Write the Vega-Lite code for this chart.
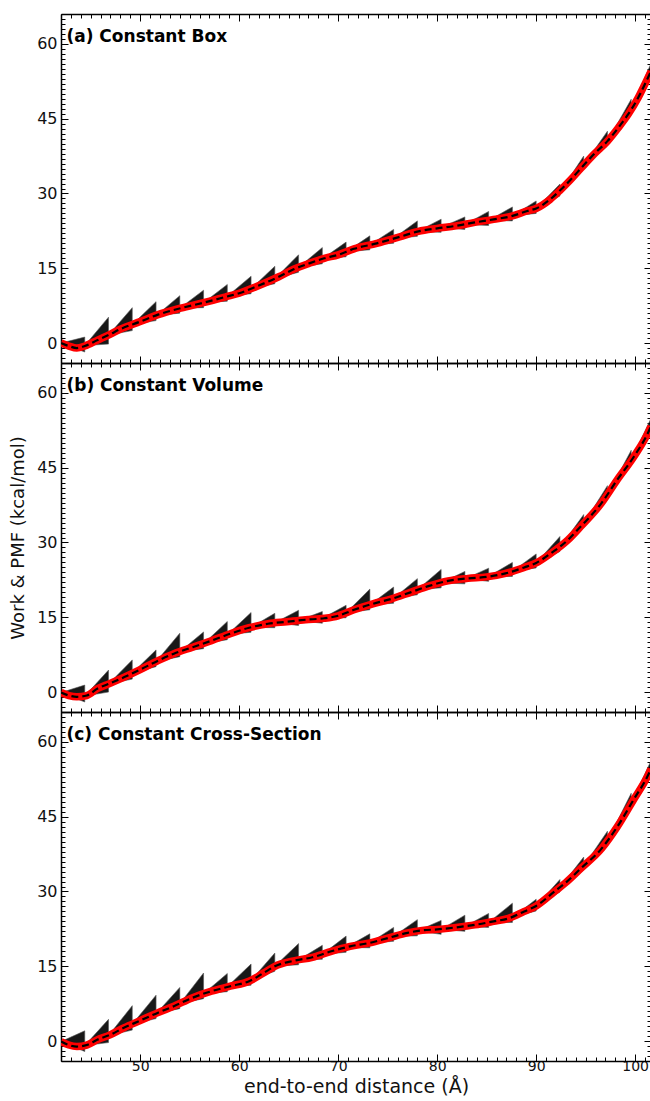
{
  "$schema": "https://vega.github.io/schema/vega-lite/v6.json",
  "padding": {"left": 9, "top": 6, "right": 0, "bottom": 0},
  "spacing": 0,
  "bounds": "flush",
  "config": {
    "view": {"stroke": null},
    "font": "DejaVu Sans",
    "axis": {
      "grid": false,
      "domainColor": "black",
      "domainWidth": 1.5,
      "tickColor": "black",
      "tickWidth": 1,
      "labelColor": "#111111",
      "labelFont": "DejaVu Sans",
      "titleFont": "DejaVu Sans",
      "titleColor": "#111111",
      "titleFontWeight": "normal",
      "labelOverlap": false,
      "labelFlush": false
    }
  },
  "datasets": {
    "pmf": [
      {"p":"a","x":42,"y":0.0},{"p":"a","x":42.8,"y":-0.6},{"p":"a","x":43.6,"y":-1.0},{"p":"a","x":44.4,"y":-0.6},{"p":"a","x":45.7,"y":0.6},{"p":"a","x":46.9,"y":1.7},{"p":"a","x":48,"y":2.8},{"p":"a","x":50,"y":4.3},{"p":"a","x":51.8,"y":5.7},{"p":"a","x":54.1,"y":7.0},{"p":"a","x":56.4,"y":8.1},{"p":"a","x":58.7,"y":9.3},{"p":"a","x":60,"y":10.0},{"p":"a","x":61.7,"y":11.3},{"p":"a","x":64,"y":13.3},{"p":"a","x":65.5,"y":14.8},{"p":"a","x":67.1,"y":16.0},{"p":"a","x":68.6,"y":17.0},{"p":"a","x":70,"y":17.7},{"p":"a","x":71.6,"y":18.9},{"p":"a","x":73.9,"y":20.0},{"p":"a","x":76.2,"y":21.3},{"p":"a","x":78.1,"y":22.4},{"p":"a","x":80,"y":23.0},{"p":"a","x":81.9,"y":23.5},{"p":"a","x":83.8,"y":24.2},{"p":"a","x":85.7,"y":24.8},{"p":"a","x":87.6,"y":25.5},{"p":"a","x":89.1,"y":26.5},{"p":"a","x":90,"y":27.0},{"p":"a","x":91.4,"y":28.8},{"p":"a","x":92.4,"y":30.6},{"p":"a","x":93.5,"y":32.8},{"p":"a","x":94.5,"y":35.0},{"p":"a","x":95.8,"y":37.8},{"p":"a","x":97.2,"y":40.5},{"p":"a","x":98.3,"y":43.2},{"p":"a","x":99.3,"y":45.9},{"p":"a","x":100.3,"y":49.2},{"p":"a","x":101,"y":52.0},{"p":"a","x":101.6,"y":54.5},
      {"p":"b","x":42,"y":-0.1},{"p":"b","x":42.8,"y":-0.7},{"p":"b","x":43.6,"y":-0.95},{"p":"b","x":44.6,"y":-0.7},{"p":"b","x":45.7,"y":0.7},{"p":"b","x":46.9,"y":1.7},{"p":"b","x":48.4,"y":3.0},{"p":"b","x":50,"y":4.5},{"p":"b","x":51.8,"y":6.3},{"p":"b","x":53.4,"y":7.7},{"p":"b","x":55.3,"y":9.0},{"p":"b","x":57.2,"y":10.3},{"p":"b","x":59.1,"y":11.7},{"p":"b","x":61,"y":12.9},{"p":"b","x":62.9,"y":13.7},{"p":"b","x":64.8,"y":14.1},{"p":"b","x":66.7,"y":14.5},{"p":"b","x":68.6,"y":14.8},{"p":"b","x":70,"y":15.3},{"p":"b","x":71.6,"y":16.5},{"p":"b","x":73.5,"y":17.7},{"p":"b","x":75.4,"y":18.7},{"p":"b","x":77.3,"y":20.0},{"p":"b","x":79.2,"y":21.3},{"p":"b","x":81.1,"y":22.3},{"p":"b","x":83.1,"y":22.8},{"p":"b","x":85,"y":23.1},{"p":"b","x":86.9,"y":23.8},{"p":"b","x":88.8,"y":25.0},{"p":"b","x":90,"y":25.9},{"p":"b","x":91.4,"y":27.7},{"p":"b","x":93.2,"y":30.5},{"p":"b","x":94.5,"y":33.2},{"p":"b","x":96.6,"y":37.9},{"p":"b","x":98.2,"y":42.6},{"p":"b","x":99.9,"y":47.3},{"p":"b","x":101.3,"y":52.0},{"p":"b","x":101.6,"y":53.3},
      {"p":"c","x":42,"y":-0.1},{"p":"c","x":42.8,"y":-0.8},{"p":"c","x":43.6,"y":-1.1},{"p":"c","x":44.6,"y":-0.8},{"p":"c","x":45.7,"y":0.3},{"p":"c","x":46.9,"y":1.2},{"p":"c","x":48.4,"y":2.7},{"p":"c","x":50,"y":4.1},{"p":"c","x":51.8,"y":5.7},{"p":"c","x":53.4,"y":7.0},{"p":"c","x":55.3,"y":8.7},{"p":"c","x":57.2,"y":10.0},{"p":"c","x":59.1,"y":11.0},{"p":"c","x":61,"y":12.0},{"p":"c","x":62.5,"y":13.7},{"p":"c","x":63.6,"y":15.0},{"p":"c","x":65.5,"y":16.1},{"p":"c","x":67.4,"y":16.8},{"p":"c","x":69.3,"y":18.0},{"p":"c","x":71.2,"y":19.0},{"p":"c","x":73.2,"y":19.7},{"p":"c","x":75.1,"y":20.7},{"p":"c","x":77,"y":21.7},{"p":"c","x":78.5,"y":22.2},{"p":"c","x":80,"y":22.4},{"p":"c","x":81.9,"y":22.8},{"p":"c","x":83.8,"y":23.3},{"p":"c","x":85.7,"y":24.0},{"p":"c","x":87.2,"y":24.6},{"p":"c","x":88.8,"y":26.0},{"p":"c","x":90,"y":27.1},{"p":"c","x":91.8,"y":29.9},{"p":"c","x":93,"y":31.8},{"p":"c","x":94.5,"y":34.6},{"p":"c","x":96.6,"y":38.6},{"p":"c","x":98.2,"y":43.0},{"p":"c","x":99.9,"y":48.6},{"p":"c","x":101.3,"y":53.3},{"p":"c","x":101.6,"y":54.6}
    ],
    "tri": [
      {"p":"a","s":0,"x":42,"h":0,"l":0},{"p":"a","s":0,"x":44.4,"h":1.2,"l":-1.8},
      {"p":"a","s":1,"x":44.4,"h":-0.5,"l":-0.5},{"p":"a","s":1,"x":46.8,"h":5.2,"l":-0.2},
      {"p":"a","s":2,"x":46.8,"h":1.6,"l":1.6},{"p":"a","s":2,"x":49.2,"h":7.1,"l":2.5},
      {"p":"a","s":3,"x":49.2,"h":3.7,"l":3.7},{"p":"a","s":3,"x":51.6,"h":8.3,"l":4.5},
      {"p":"a","s":4,"x":51.6,"h":5.5,"l":5.5},{"p":"a","s":4,"x":54.0,"h":9.5,"l":6.0},
      {"p":"a","s":5,"x":54.0,"h":7.0,"l":7.0},{"p":"a","s":5,"x":56.4,"h":10.6,"l":7.1},
      {"p":"a","s":6,"x":56.4,"h":8.1,"l":8.1},{"p":"a","s":6,"x":58.8,"h":11.75,"l":8.4},
      {"p":"a","s":7,"x":58.8,"h":9.4,"l":9.4},{"p":"a","s":7,"x":61.2,"h":13.4,"l":9.9},
      {"p":"a","s":8,"x":61.2,"h":10.9,"l":10.9},{"p":"a","s":8,"x":63.6,"h":15.4,"l":11.9},
      {"p":"a","s":9,"x":63.6,"h":12.9,"l":12.9},{"p":"a","s":9,"x":66.0,"h":17.7,"l":14.2},
      {"p":"a","s":10,"x":66.0,"h":15.2,"l":15.2},{"p":"a","s":10,"x":68.4,"h":19.15,"l":15.9},
      {"p":"a","s":11,"x":68.4,"h":16.9,"l":16.9},{"p":"a","s":11,"x":70.8,"h":20.25,"l":17.3},
      {"p":"a","s":12,"x":70.8,"h":18.3,"l":18.3},{"p":"a","s":12,"x":73.2,"h":21.5,"l":18.7},
      {"p":"a","s":13,"x":73.2,"h":19.7,"l":19.7},{"p":"a","s":13,"x":75.6,"h":22.8,"l":20.0},
      {"p":"a","s":14,"x":75.6,"h":21.0,"l":21.0},{"p":"a","s":14,"x":78.0,"h":24.5,"l":21.4},
      {"p":"a","s":15,"x":78.0,"h":22.4,"l":22.4},{"p":"a","s":15,"x":80.4,"h":24.85,"l":22.2},
      {"p":"a","s":16,"x":80.4,"h":23.2,"l":23.2},{"p":"a","s":16,"x":82.8,"h":25.3,"l":22.8},
      {"p":"a","s":17,"x":82.8,"h":23.8,"l":23.8},{"p":"a","s":17,"x":85.2,"h":26.4,"l":23.6},
      {"p":"a","s":18,"x":85.2,"h":24.6,"l":24.6},{"p":"a","s":18,"x":87.6,"h":27.3,"l":24.5},
      {"p":"a","s":19,"x":87.6,"h":25.5,"l":25.5},{"p":"a","s":19,"x":90.0,"h":28.5,"l":26.0},
      {"p":"a","s":20,"x":90.0,"h":27.0,"l":27.0},{"p":"a","s":20,"x":92.4,"h":31.9,"l":29.5},
      {"p":"a","s":21,"x":92.4,"h":30.3,"l":30.3},{"p":"a","s":21,"x":94.8,"h":37.5,"l":35.0},
      {"p":"a","s":22,"x":94.8,"h":35.7,"l":35.7},{"p":"a","s":22,"x":97.2,"h":42.5,"l":39.8},
      {"p":"a","s":23,"x":97.2,"h":40.5,"l":40.5},{"p":"a","s":23,"x":99.6,"h":48.9,"l":46.0},
      {"p":"a","s":24,"x":99.6,"h":46.8,"l":46.8},{"p":"a","s":24,"x":101.6,"h":56.1,"l":53.7},
      {"p":"b","s":0,"x":42,"h":-0.1,"l":-0.1},{"p":"b","s":0,"x":44.4,"h":1.4,"l":-2.0},
      {"p":"b","s":1,"x":44.4,"h":-0.8,"l":-0.8},{"p":"b","s":1,"x":46.8,"h":4.4,"l":0.0},
      {"p":"b","s":2,"x":46.8,"h":1.6,"l":1.6},{"p":"b","s":2,"x":49.2,"h":6.45,"l":2.6},
      {"p":"b","s":3,"x":49.2,"h":3.8,"l":3.8},{"p":"b","s":3,"x":51.6,"h":8.45,"l":5.1},
      {"p":"b","s":4,"x":51.6,"h":6.1,"l":6.1},{"p":"b","s":4,"x":54.0,"h":11.8,"l":7.1},
      {"p":"b","s":5,"x":54.0,"h":8.1,"l":8.1},{"p":"b","s":5,"x":56.4,"h":12.05,"l":8.7},
      {"p":"b","s":6,"x":56.4,"h":9.7,"l":9.7},{"p":"b","s":6,"x":58.8,"h":14.15,"l":10.5},
      {"p":"b","s":7,"x":58.8,"h":11.5,"l":11.5},{"p":"b","s":7,"x":61.2,"h":15.95,"l":12.0},
      {"p":"b","s":8,"x":61.2,"h":13.0,"l":13.0},{"p":"b","s":8,"x":63.6,"h":15.8,"l":12.9},
      {"p":"b","s":9,"x":63.6,"h":13.9,"l":13.9},{"p":"b","s":9,"x":66.0,"h":16.4,"l":13.35},
      {"p":"b","s":10,"x":66.0,"h":14.35,"l":14.35},{"p":"b","s":10,"x":68.4,"h":16.15,"l":13.8},
      {"p":"b","s":11,"x":68.4,"h":14.8,"l":14.8},{"p":"b","s":11,"x":70.8,"h":17.4,"l":14.9},
      {"p":"b","s":12,"x":70.8,"h":15.9,"l":15.9},{"p":"b","s":12,"x":73.2,"h":20.65,"l":16.5},
      {"p":"b","s":13,"x":73.2,"h":17.5,"l":17.5},{"p":"b","s":13,"x":75.6,"h":21.05,"l":17.8},
      {"p":"b","s":14,"x":75.6,"h":18.8,"l":18.8},{"p":"b","s":14,"x":78.0,"h":22.75,"l":19.5},
      {"p":"b","s":15,"x":78.0,"h":20.5,"l":20.5},{"p":"b","s":15,"x":80.4,"h":24.6,"l":20.9},
      {"p":"b","s":16,"x":80.4,"h":21.9,"l":21.9},{"p":"b","s":16,"x":82.8,"h":24.2,"l":21.7},
      {"p":"b","s":17,"x":82.8,"h":22.7,"l":22.7},{"p":"b","s":17,"x":85.2,"h":24.85,"l":22.2},
      {"p":"b","s":18,"x":85.2,"h":23.2,"l":23.2},{"p":"b","s":18,"x":87.6,"h":26.0,"l":23.2},
      {"p":"b","s":19,"x":87.6,"h":24.2,"l":24.2},{"p":"b","s":19,"x":90.0,"h":27.7,"l":24.9},
      {"p":"b","s":20,"x":90.0,"h":25.9,"l":25.9},{"p":"b","s":20,"x":92.4,"h":31.2,"l":28.2},
      {"p":"b","s":21,"x":92.4,"h":29.0,"l":29.0},{"p":"b","s":21,"x":94.8,"h":35.6,"l":33.0},
      {"p":"b","s":22,"x":94.8,"h":33.8,"l":33.8},{"p":"b","s":22,"x":97.2,"h":41.4,"l":38.7},
      {"p":"b","s":23,"x":97.2,"h":39.5,"l":39.5},{"p":"b","s":23,"x":99.6,"h":48.5,"l":45.7},
      {"p":"b","s":24,"x":99.6,"h":46.5,"l":46.5},{"p":"b","s":24,"x":101.6,"h":54.9,"l":52.5},
      {"p":"c","s":0,"x":42,"h":-0.1,"l":-0.1},{"p":"c","s":0,"x":44.4,"h":2.05,"l":-2.1},
      {"p":"c","s":1,"x":44.4,"h":-0.9,"l":-0.9},{"p":"c","s":1,"x":46.8,"h":4.35,"l":-0.3},
      {"p":"c","s":2,"x":46.8,"h":1.1,"l":1.1},{"p":"c","s":2,"x":49.2,"h":7.1,"l":2.2},
      {"p":"c","s":3,"x":49.2,"h":3.4,"l":3.4},{"p":"c","s":3,"x":51.6,"h":9.2,"l":4.5},
      {"p":"c","s":4,"x":51.6,"h":5.5,"l":5.5},{"p":"c","s":4,"x":54.0,"h":10.75,"l":6.5},
      {"p":"c","s":5,"x":54.0,"h":7.5,"l":7.5},{"p":"c","s":5,"x":56.4,"h":13.65,"l":8.5},
      {"p":"c","s":6,"x":56.4,"h":9.5,"l":9.5},{"p":"c","s":6,"x":58.8,"h":13.55,"l":9.9},
      {"p":"c","s":7,"x":58.8,"h":10.9,"l":10.9},{"p":"c","s":7,"x":61.2,"h":15.45,"l":11.2},
      {"p":"c","s":8,"x":61.2,"h":12.2,"l":12.2},{"p":"c","s":8,"x":63.6,"h":17.65,"l":14.0},
      {"p":"c","s":9,"x":63.6,"h":15.0,"l":15.0},{"p":"c","s":9,"x":66.0,"h":19.55,"l":15.3},
      {"p":"c","s":10,"x":66.0,"h":16.3,"l":16.3},{"p":"c","s":10,"x":68.4,"h":19.2,"l":16.4},
      {"p":"c","s":11,"x":68.4,"h":17.4,"l":17.4},{"p":"c","s":11,"x":70.8,"h":21.05,"l":17.8},
      {"p":"c","s":12,"x":70.8,"h":18.8,"l":18.8},{"p":"c","s":12,"x":73.2,"h":21.5,"l":18.7},
      {"p":"c","s":13,"x":73.2,"h":19.7,"l":19.7},{"p":"c","s":13,"x":75.6,"h":22.8,"l":20.0},
      {"p":"c","s":14,"x":75.6,"h":21.0,"l":21.0},{"p":"c","s":14,"x":78.0,"h":24.35,"l":21.1},
      {"p":"c","s":15,"x":78.0,"h":22.1,"l":22.1},{"p":"c","s":15,"x":80.4,"h":24.2,"l":21.4},
      {"p":"c","s":16,"x":80.4,"h":22.4,"l":22.4},{"p":"c","s":16,"x":82.8,"h":25.25,"l":22.0},
      {"p":"c","s":17,"x":82.8,"h":23.0,"l":23.0},{"p":"c","s":17,"x":85.2,"h":25.6,"l":22.8},
      {"p":"c","s":18,"x":85.2,"h":23.8,"l":23.8},{"p":"c","s":18,"x":87.6,"h":27.65,"l":23.8},
      {"p":"c","s":19,"x":87.6,"h":24.8,"l":24.8},{"p":"c","s":19,"x":90.0,"h":28.45,"l":26.1},
      {"p":"c","s":20,"x":90.0,"h":27.1,"l":27.1},{"p":"c","s":20,"x":92.4,"h":32.4,"l":29.9},
      {"p":"c","s":21,"x":92.4,"h":30.8,"l":30.8},{"p":"c","s":21,"x":94.8,"h":36.9,"l":34.3},
      {"p":"c","s":22,"x":94.8,"h":35.1,"l":35.1},{"p":"c","s":22,"x":97.2,"h":42.1,"l":39.4},
      {"p":"c","s":23,"x":97.2,"h":40.2,"l":40.2},{"p":"c","s":23,"x":99.6,"h":49.7,"l":47.0},
      {"p":"c","s":24,"x":99.6,"h":47.8,"l":47.8},{"p":"c","s":24,"x":101.6,"h":56.2,"l":53.8}
    ],
    "lab": [
      {"p":"a","x":42.55,"y":61.3,"t":"(a) Constant Box"},
      {"p":"b","x":42.55,"y":61.3,"t":"(b) Constant Volume"},
      {"p":"c","x":42.55,"y":61.3,"t":"(c) Constant Cross-Section"}
    ]
  },
  "vconcat": [
    {
      "width": 590, "height": 349,
      "layer": [
        {"data": {"name": "tri"}, "transform": [{"filter": "datum.p === 'a'"}],
         "mark": {"type": "area", "color": "black", "opacity": 0.9, "stroke": "#444444", "strokeWidth": 0.6, "clip": true},
         "encoding": {
           "x": {"field": "x", "type": "quantitative", "scale": {"domain": [42, 101.6], "nice": false, "zero": false},
                 "axis": {"orient": "bottom", "labels": false, "title": null, "tickCount": 60, "tickSize": {"condition": {"test": "datum.value % 10 === 0", "value": -7}, "value": -4}}},
           "y": {"field": "h", "type": "quantitative", "scale": {"domain": [-4, 66], "nice": false, "zero": false},
                 "axis": {"orient": "left", "title": null, "tickCount": 70, "labelFontSize": 16, "labelPadding": 11, "labelExpr": "datum.value % 15 === 0 ? datum.label : ''", "tickSize": {"condition": {"test": "datum.value % 15 === 0", "value": -7}, "value": -4}}},
           "y2": {"field": "l"},
           "detail": {"field": "s"}
         }},
        {"data": {"name": "pmf"}, "transform": [{"filter": "datum.p === 'a'"}],
         "mark": {"type": "line", "color": "#ff0000", "strokeWidth": 7.5, "interpolate": "monotone", "clip": true},
         "encoding": {
           "x": {"field": "x", "type": "quantitative", "axis": {"orient": "top", "labels": false, "title": null, "tickCount": 60, "tickSize": {"condition": {"test": "datum.value % 10 === 0", "value": -7}, "value": -4}}},
           "y": {"field": "y", "type": "quantitative", "axis": {"orient": "right", "labels": false, "title": null, "tickCount": 70, "tickSize": {"condition": {"test": "datum.value % 15 === 0", "value": -7}, "value": -4}}}
         }},
        {"data": {"name": "pmf"}, "transform": [{"filter": "datum.p === 'a'"}],
         "mark": {"type": "line", "color": "black", "strokeWidth": 2.2, "strokeDash": [7, 4], "interpolate": "monotone", "clip": true},
         "encoding": {
           "x": {"field": "x", "type": "quantitative", "axis": null},
           "y": {"field": "y", "type": "quantitative", "axis": null}
         }},
        {"data": {"name": "lab"}, "transform": [{"filter": "datum.p === 'a'"}],
         "mark": {"type": "text", "align": "left", "baseline": "middle", "fontSize": 17, "fontWeight": "bold", "color": "black", "font": "DejaVu Sans"},
         "encoding": {
           "x": {"field": "x", "type": "quantitative", "axis": null},
           "y": {"field": "y", "type": "quantitative", "axis": null},
           "text": {"field": "t"}
         }}
      ],
      "resolve": {"axis": {"x": "independent", "y": "independent"}}
    },
    {
      "width": 590, "height": 349,
      "layer": [
        {"data": {"name": "tri"}, "transform": [{"filter": "datum.p === 'b'"}],
         "mark": {"type": "area", "color": "black", "opacity": 0.9, "stroke": "#444444", "strokeWidth": 0.6, "clip": true},
         "encoding": {
           "x": {"field": "x", "type": "quantitative", "scale": {"domain": [42, 101.6], "nice": false, "zero": false},
                 "axis": {"orient": "bottom", "labels": false, "title": null, "tickCount": 60, "tickSize": {"condition": {"test": "datum.value % 10 === 0", "value": -7}, "value": -4}}},
           "y": {"field": "h", "type": "quantitative", "scale": {"domain": [-4, 66], "nice": false, "zero": false},
                 "axis": {"orient": "left", "title": "Work & PMF (kcal/mol)", "titleFontSize": 18, "titlePadding": 9, "tickCount": 70, "labelFontSize": 16, "labelPadding": 11, "labelExpr": "datum.value % 15 === 0 ? datum.label : ''", "tickSize": {"condition": {"test": "datum.value % 15 === 0", "value": -7}, "value": -4}}},
           "y2": {"field": "l"},
           "detail": {"field": "s"}
         }},
        {"data": {"name": "pmf"}, "transform": [{"filter": "datum.p === 'b'"}],
         "mark": {"type": "line", "color": "#ff0000", "strokeWidth": 7.5, "interpolate": "monotone", "clip": true},
         "encoding": {
           "x": {"field": "x", "type": "quantitative", "axis": {"orient": "top", "labels": false, "title": null, "tickCount": 60, "tickSize": {"condition": {"test": "datum.value % 10 === 0", "value": -7}, "value": -4}}},
           "y": {"field": "y", "type": "quantitative", "axis": {"orient": "right", "labels": false, "title": null, "tickCount": 70, "tickSize": {"condition": {"test": "datum.value % 15 === 0", "value": -7}, "value": -4}}}
         }},
        {"data": {"name": "pmf"}, "transform": [{"filter": "datum.p === 'b'"}],
         "mark": {"type": "line", "color": "black", "strokeWidth": 2.2, "strokeDash": [7, 4], "interpolate": "monotone", "clip": true},
         "encoding": {
           "x": {"field": "x", "type": "quantitative", "axis": null},
           "y": {"field": "y", "type": "quantitative", "axis": null}
         }},
        {"data": {"name": "lab"}, "transform": [{"filter": "datum.p === 'b'"}],
         "mark": {"type": "text", "align": "left", "baseline": "middle", "fontSize": 17, "fontWeight": "bold", "color": "black", "font": "DejaVu Sans"},
         "encoding": {
           "x": {"field": "x", "type": "quantitative", "axis": null},
           "y": {"field": "y", "type": "quantitative", "axis": null},
           "text": {"field": "t"}
         }}
      ],
      "resolve": {"axis": {"x": "independent", "y": "independent"}}
    },
    {
      "width": 590, "height": 349,
      "layer": [
        {"data": {"name": "tri"}, "transform": [{"filter": "datum.p === 'c'"}],
         "mark": {"type": "area", "color": "black", "opacity": 0.9, "stroke": "#444444", "strokeWidth": 0.6, "clip": true},
         "encoding": {
           "x": {"field": "x", "type": "quantitative", "scale": {"domain": [42, 101.6], "nice": false, "zero": false},
                 "axis": {"orient": "bottom", "title": "end-to-end distance (Å)", "titleFontSize": 19, "titlePadding": 1, "labelFontSize": 14, "labelPadding": 5, "labelExpr": "datum.value % 10 === 0 ? datum.label : ''", "tickCount": 60, "tickSize": {"condition": {"test": "datum.value % 10 === 0", "value": -7}, "value": -4}}},
           "y": {"field": "h", "type": "quantitative", "scale": {"domain": [-4, 66], "nice": false, "zero": false},
                 "axis": {"orient": "left", "title": null, "tickCount": 70, "labelFontSize": 16, "labelPadding": 11, "labelExpr": "datum.value % 15 === 0 ? datum.label : ''", "tickSize": {"condition": {"test": "datum.value % 15 === 0", "value": -7}, "value": -4}}},
           "y2": {"field": "l"},
           "detail": {"field": "s"}
         }},
        {"data": {"name": "pmf"}, "transform": [{"filter": "datum.p === 'c'"}],
         "mark": {"type": "line", "color": "#ff0000", "strokeWidth": 7.5, "interpolate": "monotone", "clip": true},
         "encoding": {
           "x": {"field": "x", "type": "quantitative", "axis": {"orient": "top", "labels": false, "title": null, "tickCount": 60, "tickSize": {"condition": {"test": "datum.value % 10 === 0", "value": -7}, "value": -4}}},
           "y": {"field": "y", "type": "quantitative", "axis": {"orient": "right", "labels": false, "title": null, "tickCount": 70, "tickSize": {"condition": {"test": "datum.value % 15 === 0", "value": -7}, "value": -4}}}
         }},
        {"data": {"name": "pmf"}, "transform": [{"filter": "datum.p === 'c'"}],
         "mark": {"type": "line", "color": "black", "strokeWidth": 2.2, "strokeDash": [7, 4], "interpolate": "monotone", "clip": true},
         "encoding": {
           "x": {"field": "x", "type": "quantitative", "axis": null},
           "y": {"field": "y", "type": "quantitative", "axis": null}
         }},
        {"data": {"name": "lab"}, "transform": [{"filter": "datum.p === 'c'"}],
         "mark": {"type": "text", "align": "left", "baseline": "middle", "fontSize": 17, "fontWeight": "bold", "color": "black", "font": "DejaVu Sans"},
         "encoding": {
           "x": {"field": "x", "type": "quantitative", "axis": null},
           "y": {"field": "y", "type": "quantitative", "axis": null},
           "text": {"field": "t"}
         }}
      ],
      "resolve": {"axis": {"x": "independent", "y": "independent"}}
    }
  ]
}
